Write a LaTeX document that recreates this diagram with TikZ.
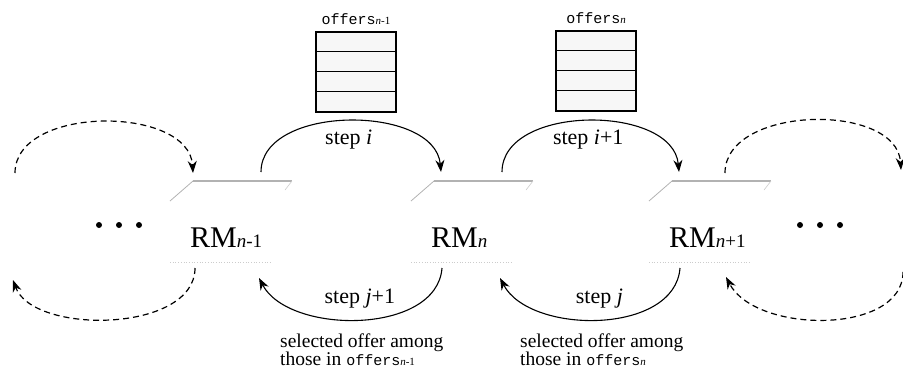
\documentclass[tikz,border=0pt]{standalone}
\usepackage{fontspec}
\setmainfont{Liberation Serif}
\setmonofont{Liberation Mono}
\usetikzlibrary{positioning,arrows.meta}
\tikzset{>={Stealth[length=12pt,width=9pt]}}

\newcommand{\rmidx}[1]{{\fontsize{19}{19}\selectfont\textit{n}#1}}
\newcommand{\ofidx}[1]{{\fontsize{11}{11}\selectfont\textit{n}#1}}
\newcommand{\offers}[1]{{\fontsize{15}{15}\selectfont\ttfamily offers}\ofidx{#1}}

\begin{document}
\begin{tikzpicture}[x=1pt,y=-1pt,
  rm/.style={anchor=base west, inner sep=0pt, font=\fontsize{30}{30}\selectfont},
  edge/.style={gray!60, line width=1.3pt},
  slant/.style={gray!60, line width=0.8pt},
  faint/.style={gray!40, line width=0.7pt, dotted},
  stack/.style={draw, line width=1.4pt, fill=gray!6, minimum width=80pt, minimum height=80pt, inner sep=0pt},
  steplbl/.style={font=\fontsize{22}{22}\selectfont, text height=15pt, text depth=5pt},
  caption/.style={anchor=north west, align=left, inner sep=0pt, font=\fontsize{19.5}{18}\selectfont},
  hop/.style={->, line width=1.1pt},
  wrap/.style={->, line width=1.2pt, dash pattern=on 6pt off 4pt}]

  \useasboundingbox (0,0) rectangle (903,376);

  %% the resource managers
  \node[rm] (rmA) at (190,247) {RM\rmidx{-1}};
  \node[rm] (rmB) at (431,247) {RM\rmidx{}};
  \node[rm] (rmC) at (669,247) {RM\rmidx{+1}};
  \foreach \rmname in {rmA,rmB,rmC} {
    \draw[slant] ([shift={(-20,-46)}]\rmname.base west) -- ([shift={(3,-66)}]\rmname.base west);
    \draw[edge] ([shift={(3,-66)}]\rmname.base west) -- ([shift={(102,-66)}]\rmname.base west);
    \draw[gray!40, line width=0.6pt] ([shift={(102,-66)}]\rmname.base west) -- ([shift={(95,-57)}]\rmname.base west);
    \draw[faint] ([shift={(-20,15)}]\rmname.base west) -- ([shift={(80,15)}]\rmname.base west);
  }

  %% offer stacks
  \node[stack] (offA) at (356,72) {};
  \node[stack] (offB) at (596,71) {};
  \foreach \s in {offA,offB}
    \foreach \k in {1,2,3}
      \draw[line width=1.5pt] ([yshift={-20pt*\k}]\s.north west) -- ([yshift={-20pt*\k}]\s.north east);
  \node[above=6pt of offA, inner sep=0pt] (offAlbl) {\offers{-1}};
  \node[above=6pt of offB, inner sep=0pt] (offBlbl) {\offers{}};

  %% steps forward
  \draw[hop] ([shift={(71,-75)}]rmA.base west) .. controls +(0,-68) and +(-6,-68) ..
    ([shift={(10,-75)}]rmB.base west) node[steplbl, pos=0.5, below=5pt] {step \textit{i}};
  \draw[hop] ([shift={(71,-75)}]rmB.base west) .. controls +(0,-68) and +(-6,-68) ..
    ([shift={(10,-75)}]rmC.base west) node[steplbl, pos=0.5, below=5pt] {step \textit{i}+1};

  %% steps back
  \draw[hop] ([shift={(11,21)}]rmB.base west) .. controls +(-5,67) and +(30,57) ..
    ([shift={(69,31)}]rmA.base west) node[steplbl, pos=0.5, above=7pt] {step \textit{j}+1};
  \draw[hop] ([shift={(11,21)}]rmC.base west) .. controls +(-5,67) and +(30,57) ..
    ([shift={(69,31)}]rmB.base west) node[steplbl, pos=0.5, above=7pt] {step \textit{j}};

  \node[caption] (capA) at (280,334) {selected offer among\\those in \offers{-1}};
  \node[caption] (capB) at (520,334) {selected offer among\\those in \offers{}};

  %% the rest of the chain
  \coordinate (farLtop) at (15,173);
  \coordinate (farLbot) at (13,280);
  \coordinate (farRtop) at (901,170);
  \coordinate (farRbot) at (903,272);
  \draw[wrap] (farLtop) .. controls +(0,-68) and +(-4,-68) .. ([shift={(3,-74)}]rmA.base west);
  \draw[wrap] ([shift={(5,21)}]rmA.base west) .. controls +(0,65) and +(20,55) .. (farLbot);
  \draw[wrap] ([shift={(56,-74)}]rmC.base west) .. controls +(0,-68) and +(-4,-68) .. (farRtop);
  \draw[wrap] (farRbot) .. controls +(0,63) and +(30,57) .. ([shift={(57,30)}]rmC.base west);
  \foreach \x in {99,119,139,800,820,840}
    \fill (\x,225) circle (3pt);
\end{tikzpicture}
\end{document}
